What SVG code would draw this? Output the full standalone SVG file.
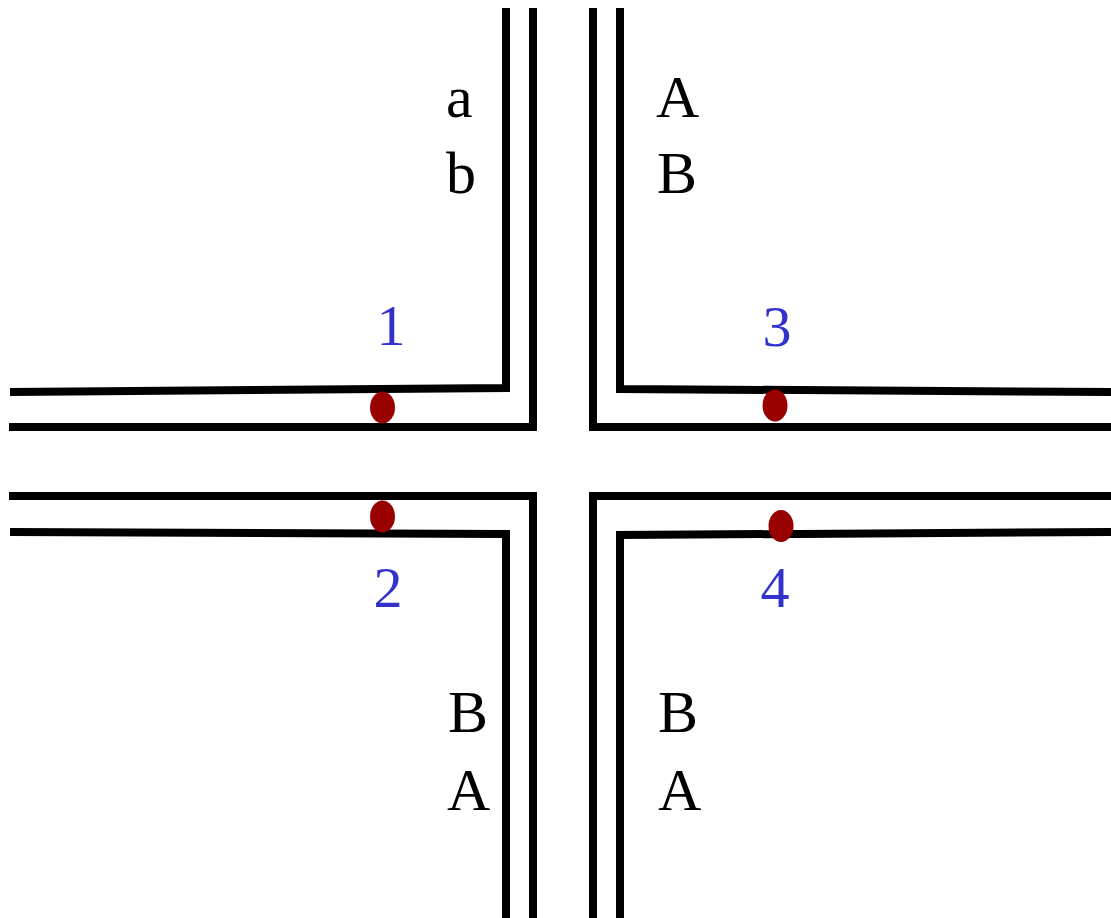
<svg xmlns="http://www.w3.org/2000/svg" width="1111" height="918" viewBox="0 0 1111 918">
<style>
.w{fill:none;stroke:#000;stroke-width:8;stroke-linejoin:miter}
.d{fill:#990000}
.l{font-family:"Liberation Serif",serif;font-size:60px;fill:#000}
.n{font-family:"Liberation Serif",serif;font-size:58px;fill:#3333cc;text-anchor:middle}
</style>
<rect width="1111" height="918" fill="#fff"/>
<g id="walls">
<polyline class="w" points="10,392 506,388 506,8"/>
<polyline class="w" points="9,427 533,427 533,8"/>
<polyline class="w" points="9,496 533,496 533,918"/>
<polyline class="w" points="10,532 506,534 506,918"/>
<polyline class="w" points="620,8 620,389 1111,392"/>
<polyline class="w" points="593,8 593,427 1111,427"/>
<polyline class="w" points="593,918 593,496 1111,496"/>
<polyline class="w" points="620,918 620,535 1111,532"/>
</g>
<g id="dots">
<ellipse class="d" cx="382.5" cy="407.5" rx="12.5" ry="16"/>
<ellipse class="d" cx="382.5" cy="516.5" rx="12.5" ry="16"/>
<ellipse class="d" cx="775" cy="405.5" rx="12.5" ry="16"/>
<ellipse class="d" cx="781" cy="526" rx="12.5" ry="16"/>
</g>
<g id="labels">
<text class="l" x="446" y="117">a</text>
<text class="l" x="446" y="193">b</text>
<text class="l" x="656" y="117">A</text>
<text class="l" x="657" y="193">B</text>
<text class="l" x="448" y="732">B</text>
<text class="l" x="447" y="810">A</text>
<text class="l" x="658" y="732">B</text>
<text class="l" x="658" y="810">A</text>
</g>
<g id="numbers">
<text class="n" x="391" y="345">1</text>
<text class="n" x="777" y="346">3</text>
<text class="n" x="388" y="607">2</text>
<text class="n" x="775" y="607">4</text>
</g>
</svg>
